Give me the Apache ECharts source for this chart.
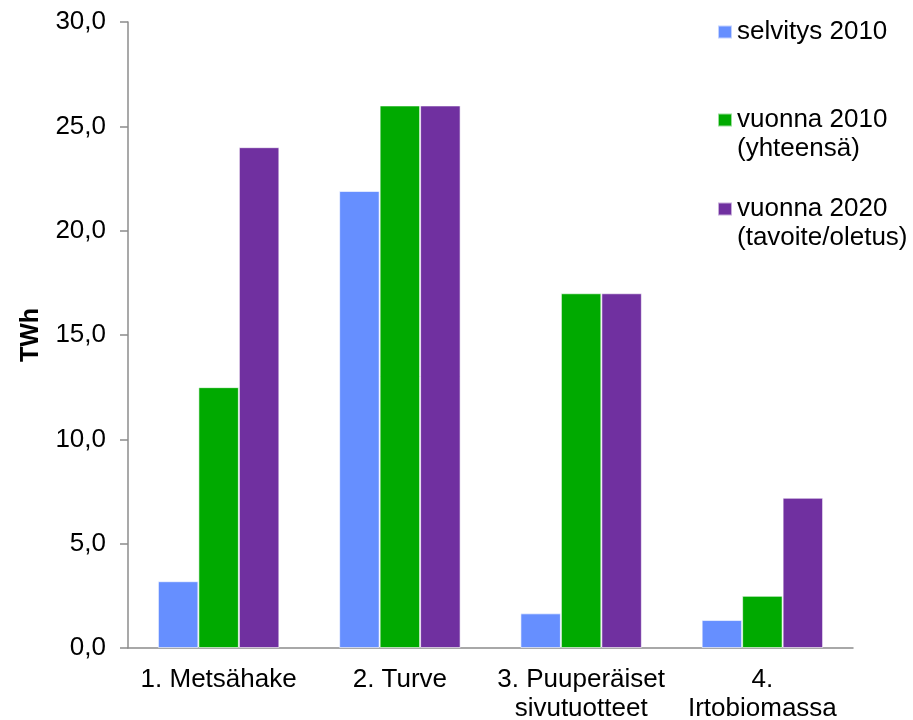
<!DOCTYPE html>
<html>
<head>
<meta charset="utf-8">
<script src="https://cdn.jsdelivr.net/npm/echarts@6/dist/echarts.min.js"></script>
<style>
  html, body { margin: 0; padding: 0; background: #fff; }
  #chart { width: 913px; height: 720px; }
</style>
</head>
<body>
<div id="chart"></div>
<script>
// Energy sources (TWh)
const categories = ['1. Metsähake', '2. Turve', '3. Puuperäiset\nsivutuotteet', '4.\nIrtobiomassa'];
const seriesNames = ['selvitys 2010', 'vuonna 2010\n(yhteensä)', 'vuonna 2020\n(tavoite/oletus)'];
const selvitys2010 = [3.2, 21.9, 1.66, 1.34];
const vuonna2010 = [12.5, 26.0, 17.0, 2.5];
const vuonna2020 = [24.0, 26.0, 17.0, 7.2];
const yTicks = { min: 0, max: 30, interval: 5 };

const colors = ['#668FFF', '#00AA00', '#7030A0'];
const FONT = 'Liberation Sans, Arial, sans-serif';
const LH = 29;

const chart = echarts.init(document.getElementById('chart'));

// One legend per entry so that the swatch sits beside the first text line.
function legendFor(idx, centerY) {
  const lines = seriesNames[idx].split('\n').length;
  // a leading blank line keeps the first real line centred on the swatch
  const shown = lines > 1 ? 2 * lines - 1 : 1;
  const boxH = shown * LH;
  return {
    data: [seriesNames[idx]],
    left: 717,
    top: centerY - boxH / 2,
    padding: 0,
    itemWidth: 14,
    itemHeight: 13,
    itemGap: 0,
    icon: 'rect',
    selectedMode: false,
    formatter: name => (lines > 1 ? '\n'.repeat(lines - 1) : '') + name,
    textStyle: {
      fontFamily: FONT,
      fontSize: 26,
      color: '#000',
      lineHeight: LH
    }
  };
}

const option = {
  animation: false,
  color: colors,
  grid: {
    left: 128, right: 60, top: 22, bottom: 72,
    containLabel: false,
    outerBoundsMode: 'none'
  },
  legend: [
    legendFor(0, 32),
    legendFor(1, 120),
    legendFor(2, 209)
  ],
  xAxis: {
    type: 'category',
    data: categories,
    axisLine: { show: true, lineStyle: { color: '#8C8C8C', width: 1.5 } },
    axisTick: { show: false },
    axisLabel: {
      fontFamily: FONT,
      fontSize: 26,
      color: '#000',
      lineHeight: LH,
      margin: 17,
      interval: 0
    }
  },
  yAxis: {
    type: 'value',
    min: yTicks.min,
    max: yTicks.max,
    interval: yTicks.interval,
    name: 'TWh',
    nameLocation: 'middle',
    nameGap: 84,
    nameRotate: 90,
    nameTextStyle: { fontFamily: FONT, fontSize: 25, fontWeight: 'bold', color: '#000' },
    axisLine: { show: true, lineStyle: { color: '#8C8C8C', width: 1.5 } },
    axisTick: { show: true, length: 8, lineStyle: { color: '#8C8C8C', width: 1.5 } },
    splitLine: { show: false },
    axisLabel: {
      fontFamily: FONT,
      fontSize: 26,
      color: '#000',
      margin: 22,
      formatter: v => v.toFixed(1).replace('.', ',')
    }
  },
  series: [
    { name: seriesNames[0], data: selvitys2010 },
    { name: seriesNames[1], data: vuonna2010 },
    { name: seriesNames[2], data: vuonna2020 }
  ].map(s => Object.assign({
    type: 'bar',
    barGap: '0%',
    barCategoryGap: '33%',
    itemStyle: { borderColor: 'rgba(255,255,255,0.6)', borderWidth: 1 }
  }, s))
};

chart.setOption(option);
</script>
</body>
</html>
